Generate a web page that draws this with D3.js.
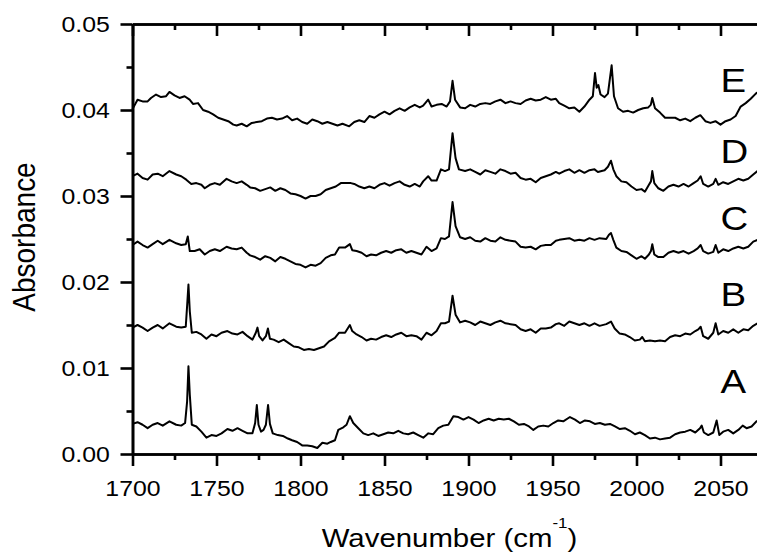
<!DOCTYPE html>
<html>
<head>
<meta charset="utf-8">
<title>Absorbance spectra</title>
<script src="https://d3js.org/d3.v7.min.js"></script>
<style>
  body { margin: 0; background: #fff; }
  svg text { font-family: "Liberation Sans", Arial, sans-serif; fill: #000; }
</style>
</head>
<body>
<svg id="chart" width="757" height="554"></svg>
<script>
// [wavenumber (cm-1), absorbance]
const specA = [[1700,.0035],[1703,.0037],[1706,.0034],[1709,.0030],[1712,.0034],[1715,.0036],[1718,.0033],[1722,.0038],[1726,.0034],[1729,.0033],[1731.3,.0036],[1732.5,.0061],[1733.3,.0102],[1734.1,.0069],[1735.3,.0034],[1738,.0032],[1741,.0026],[1744,.0019],[1747,.0022],[1750,.0021],[1753,.0024],[1756.5,.0029],[1759.5,.0027],[1762.5,.0030],[1765.5,.0027],[1768.5,.0024],[1771.4,.0024],[1773,.0036],[1774,.0057],[1775,.0034],[1776.5,.0026],[1778,.0028],[1779.4,.0034],[1780.7,.0057],[1781.8,.0035],[1783.5,.0024],[1786.5,.0022],[1789.5,.0021],[1792.5,.0018],[1795,.0016],[1798,.0014],[1801,.0010],[1804,.0010],[1807,.0009],[1810,.0007],[1813,.0013],[1816,.0012],[1818,.0014],[1820.5,.0016],[1822.5,.0028],[1825.5,.0031],[1827.4,.0034],[1829.4,.0044],[1831.4,.0036],[1834.4,.0030],[1837.4,.0024],[1840.3,.0022],[1843.3,.0024],[1846.3,.0021],[1849.3,.0023],[1852.2,.0025],[1855.2,.0024],[1858.2,.0027],[1861.2,.0024],[1864.1,.0023],[1867.1,.0025],[1870.1,.0022],[1873.1,.0019],[1876.1,.0024],[1879,.0023],[1882,.0030],[1885,.0033],[1888,.0034],[1891,.0044],[1894,.0043],[1897,.0040],[1900,.0043],[1903,.0040],[1906,.0036],[1909,.0039],[1912,.0041],[1915,.0039],[1918,.0041],[1921,.0040],[1924,.0041],[1927,.0038],[1930,.0034],[1933,.0035],[1936,.0032],[1938.6,.0028],[1941.5,.0032],[1944.5,.0033],[1947.5,.0032],[1950.5,.0036],[1953.4,.0039],[1956.4,.0038],[1960.4,.0043],[1963.4,.0040],[1966.3,.0036],[1969.3,.0039],[1972.3,.0038],[1975.2,.0035],[1978.2,.0036],[1981.2,.0034],[1984.2,.0035],[1987.2,.0032],[1990.1,.0029],[1993.1,.0030],[1996.1,.0027],[1999.1,.0023],[2002,.0025],[2005,.0022],[2008,.0018],[2011,.0019],[2014,.0017],[2017,.0018],[2020,.0019],[2023,.0023],[2026,.0025],[2029,.0026],[2032,.0028],[2035,.0025],[2037.8,.0030],[2038.8,.0033],[2040.1,.0025],[2042.7,.0022],[2045.7,.0025],[2047.7,.0039],[2049.3,.0022],[2051.6,.0026],[2054.6,.0028],[2057.6,.0024],[2060.6,.0028],[2063.2,.0033],[2065.5,.0030],[2068.5,.0032],[2071.5,.0038],[2074,.0041]];

const specB = [[1700,.0147],[1703,.0150],[1706,.0147],[1709,.0143],[1712,.0147],[1715,.0150],[1718,.0146],[1722,.0152],[1726,.0148],[1729,.0147],[1731.7,.0148],[1732.7,.0178],[1733.3,.0197],[1734.1,.0166],[1735.3,.0141],[1738,.0142],[1741,.0139],[1744,.0134],[1747,.0139],[1750,.0137],[1753,.0141],[1756.5,.0143],[1759.5,.0140],[1762.5,.0139],[1765.5,.0142],[1768.5,.0137],[1771.4,.0133],[1773.4,.0141],[1774.4,.0147],[1775.4,.0137],[1777.4,.0132],[1779.4,.0137],[1780.6,.0146],[1781.8,.0134],[1784,.0133],[1787,.0130],[1790,.0133],[1793,.0129],[1796,.0125],[1799,.0124],[1802,.0121],[1805,.0122],[1808,.0121],[1811,.0123],[1814,.0125],[1817,.0131],[1820.5,.0135],[1823,.0141],[1826.5,.0141],[1829.4,.0150],[1830.8,.0143],[1833.4,.0139],[1836.4,.0136],[1839.3,.0132],[1842,.0134],[1845,.0133],[1848,.0136],[1851,.0138],[1854,.0136],[1857,.0139],[1860,.0141],[1863,.0137],[1866,.0138],[1869,.0137],[1872,.0133],[1875,.0141],[1878,.0138],[1881,.0143],[1883.6,.0152],[1886,.0152],[1888.4,.0154],[1890.5,.0184],[1892.3,.0162],[1895,.0153],[1898,.0155],[1901,.0153],[1904,.0150],[1907,.0154],[1910,.0152],[1913,.0150],[1916,.0153],[1919,.0155],[1922,.0152],[1925,.0151],[1928,.0150],[1931,.0145],[1934,.0143],[1937,.0145],[1940,.0141],[1943,.0146],[1946,.0146],[1949,.0147],[1952,.0151],[1954,.0152],[1957,.0149],[1960,.0154],[1963,.0152],[1966,.0150],[1969,.0152],[1972,.0149],[1975,.0152],[1978,.0149],[1982,.0151],[1984.8,.0154],[1987,.0146],[1990,.0140],[1993,.0139],[1996,.0136],[1999,.0132],[2002,.0133],[2003.4,.0136],[2005,.0131],[2008,.0132],[2011,.0131],[2014,.0132],[2017,.0131],[2020,.0136],[2023,.0138],[2026,.0137],[2029,.0140],[2032,.0139],[2035,.0143],[2036.8,.0145],[2038.2,.0148],[2039.7,.0137],[2042.7,.0134],[2045.7,.0141],[2047.1,.0152],[2048.7,.0139],[2051.6,.0143],[2054.6,.0141],[2057.6,.0145],[2060.6,.0141],[2063.6,.0145],[2066.5,.0144],[2069.5,.0149],[2072,.0152],[2074,.0155]];

const specC = [[1700,.0243],[1703,.0247],[1706,.0243],[1709,.0240],[1712,.0244],[1715,.0248],[1718,.0244],[1722,.0249],[1726,.0245],[1729,.0243],[1731.7,.0244],[1732.9,.0253],[1734.1,.0236],[1737,.0236],[1740,.0238],[1743,.0232],[1746,.0236],[1749,.0238],[1752,.0236],[1756,.0241],[1759,.0239],[1762,.0238],[1765,.0240],[1768,.0234],[1770,.0231],[1773,.0229],[1776,.0226],[1779,.0230],[1782,.0228],[1785,.0224],[1788,.0229],[1791,.0227],[1794,.0224],[1797,.0221],[1800,.0220],[1803,.0217],[1806,.0220],[1809,.0219],[1812,.0222],[1815,.0228],[1818,.0231],[1820.5,.0232],[1823,.0240],[1826.5,.0240],[1829.4,.0244],[1830.8,.0237],[1833.4,.0236],[1836.4,.0234],[1839.3,.0230],[1842,.0232],[1845,.0231],[1848,.0234],[1851,.0236],[1854,.0234],[1857,.0237],[1860,.0238],[1863,.0234],[1866,.0236],[1869,.0234],[1872,.0232],[1875,.0241],[1878,.0236],[1881,.0239],[1883.6,.0251],[1886,.0250],[1888.4,.0253],[1890.5,.0293],[1892.3,.0265],[1895,.0252],[1898,.0250],[1901,.0252],[1904,.0248],[1907,.0247],[1910,.0251],[1913,.0248],[1916,.0247],[1919,.0252],[1922,.0249],[1925,.0248],[1928,.0247],[1931,.0241],[1934,.0240],[1937,.0241],[1940,.0238],[1943,.0242],[1946,.0243],[1949,.0243],[1952,.0248],[1954,.0249],[1957,.0250],[1960,.0251],[1963,.0248],[1966,.0249],[1969,.0248],[1972,.0251],[1975,.0249],[1978,.0251],[1982,.0250],[1983.6,.0255],[1984.8,.0257],[1986.2,.0249],[1988,.0240],[1991,.0236],[1994,.0235],[1997,.0231],[2000,.0227],[2003,.0230],[2005,.0227],[2007.4,.0232],[2008.6,.0236],[2009.4,.0244],[2010.6,.0232],[2013,.0229],[2016,.0229],[2019,.0234],[2022,.0236],[2025,.0234],[2028,.0236],[2031,.0233],[2034,.0236],[2036.4,.0239],[2038.2,.0243],[2039.7,.0236],[2042.7,.0233],[2045.7,.0235],[2047.1,.0243],[2048.7,.0234],[2051.6,.0238],[2054.6,.0236],[2057.6,.0239],[2060.6,.0241],[2063.6,.0239],[2066.5,.0241],[2069.5,.0247],[2072,.0249],[2074,.0251]];

const specD = [[1700,.0323],[1703,.0326],[1706,.0321],[1709,.0319],[1712,.0325],[1715,.0326],[1718,.0323],[1722,.0329],[1726,.0325],[1729,.0323],[1732,.0319],[1735,.0314],[1738,.0315],[1741,.0313],[1743,.0309],[1746,.0313],[1749,.0315],[1752,.0313],[1756,.0320],[1759,.0317],[1762,.0315],[1765,.0317],[1768,.0313],[1770,.0310],[1773,.0309],[1776,.0306],[1779,.0308],[1782,.0310],[1785,.0306],[1788,.0309],[1791,.0307],[1794,.0303],[1797,.0302],[1800,.0300],[1803,.0297],[1806,.0300],[1809,.0300],[1812,.0302],[1815,.0307],[1818,.0309],[1821,.0311],[1824,.0315],[1827,.0315],[1830,.0315],[1832,.0314],[1835,.0311],[1838,.0309],[1841,.0311],[1844,.0309],[1847,.0313],[1850,.0315],[1853,.0312],[1856,.0315],[1859,.0317],[1862,.0313],[1865,.0311],[1868,.0314],[1871,.0311],[1873,.0317],[1876,.0323],[1878,.0318],[1881,.0318],[1883.6,.0331],[1886,.0329],[1888.4,.0331],[1890.5,.0373],[1892.3,.0344],[1894.3,.0331],[1898,.0329],[1901,.0331],[1904,.0328],[1907,.0325],[1910,.0330],[1913,.0328],[1916,.0326],[1919,.0331],[1922,.0329],[1925,.0326],[1928,.0327],[1931,.0321],[1934,.0319],[1937,.0320],[1940,.0316],[1943,.0321],[1946,.0323],[1949,.0325],[1952,.0328],[1954,.0326],[1957,.0329],[1960,.0331],[1963,.0327],[1966,.0330],[1969,.0327],[1972,.0330],[1975,.0331],[1977,.0328],[1981,.0330],[1983,.0334],[1984.8,.0341],[1986.2,.0331],[1988,.0323],[1991,.0317],[1994,.0316],[1997,.0311],[2000,.0307],[2003,.0308],[2005,.0305],[2007.4,.0313],[2008.6,.0317],[2009.4,.0329],[2010.6,.0315],[2013,.0309],[2016,.0306],[2019,.0311],[2022,.0313],[2025,.0311],[2028,.0314],[2031,.0311],[2034,.0315],[2036.4,.0318],[2038.2,.0323],[2039.7,.0314],[2042.7,.0311],[2045.7,.0314],[2047.1,.0320],[2048.7,.0313],[2051.6,.0316],[2054.6,.0314],[2057.6,.0317],[2060.6,.0320],[2063.6,.0318],[2066.5,.0320],[2069.5,.0325],[2072,.0329],[2074,.0331]];

const specE = [[1700,.0401],[1703,.0412],[1706,.0410],[1709,.0410],[1711,.0414],[1714,.0418],[1717,.0415],[1720,.0416],[1722,.0421],[1725,.0417],[1728,.0414],[1731,.0416],[1734,.0412],[1736,.0407],[1739,.0408],[1742,.0400],[1745,.0398],[1748,.0395],[1751,.0391],[1754,.0389],[1757,.0387],[1760,.0383],[1762,.0382],[1765,.0384],[1768,.0381],[1771,.0385],[1774,.0386],[1777,.0387],[1780,.0390],[1783,.0391],[1786,.0389],[1789,.0390],[1792,.0393],[1795,.0388],[1798,.0390],[1801,.0386],[1804,.0384],[1807,.0389],[1810,.0387],[1813,.0384],[1816,.0386],[1819,.0384],[1822,.0382],[1825,.0384],[1829,.0381],[1832,.0386],[1835,.0388],[1838,.0386],[1841,.0393],[1844,.0391],[1847,.0395],[1850,.0398],[1853,.0395],[1856,.0399],[1859,.0402],[1862,.0399],[1865,.0403],[1868,.0406],[1871,.0403],[1873,.0405],[1876,.0412],[1878,.0404],[1881,.0406],[1884,.0407],[1887,.0404],[1889,.0410],[1890.5,.0434],[1892,.0412],[1895,.0403],[1898,.0402],[1901,.0406],[1904,.0404],[1907,.0407],[1910,.0408],[1913,.0407],[1916,.0410],[1919,.0412],[1922,.0408],[1925,.0410],[1928,.0408],[1931,.0407],[1934,.0411],[1937,.0413],[1940,.0411],[1943,.0412],[1946,.0415],[1949,.0412],[1952,.0413],[1954,.0408],[1957,.0405],[1960,.0402],[1963,.0403],[1966,.0398],[1969,.0404],[1972,.0412],[1974,.0416],[1975.3,.0443],[1976.3,.0426],[1977.3,.0429],[1978.6,.0418],[1981,.0415],[1983,.0419],[1985.2,.0452],[1986.6,.0416],[1989,.0402],[1992,.0398],[1995,.0399],[1998,.0397],[2001,.0400],[2004,.0402],[2007,.0403],[2008.5,.0406],[2009.4,.0414],[2011,.0402],[2014,.0397],[2017,.0391],[2020,.0391],[2023,.0391],[2026,.0388],[2029,.0390],[2032,.0387],[2035,.0391],[2038,.0394],[2041,.0387],[2044,.0385],[2047,.0387],[2050,.0383],[2053,.0387],[2056,.0389],[2059,.0393],[2062,.0404],[2065,.0408],[2068,.0413],[2071,.0419],[2074,.0423]];

const series = [specA, specB, specC, specD, specE];
const seriesNames = ["A", "B", "C", "D", "E"];
const nameX = [2050, 2050, 2050, 2050, 2050];
const nameY = [0.0071, 0.0172, 0.0260, 0.0338, 0.0421];

const xTicks = [1700, 1750, 1800, 1850, 1900, 1950, 2000, 2050];
const xMinor = [1725, 1775, 1825, 1875, 1925, 1975, 2025, 2075];
const yTicks = [0, 0.01, 0.02, 0.03, 0.04, 0.05];
const yMinor = [0.005, 0.015, 0.025, 0.035, 0.045];

const svg = d3.select("#chart");
const stretch = "scale(1.13,1)";

const x = d3.scaleLinear().domain([1700, 2075]).range([132.5, 762.5]);
const y = d3.scaleLinear().domain([0, 0.05]).range([454, 24]);

const line = d3.line().x(d => x(d[0])).y(d => y(d[1]));

svg.append("g")
  .selectAll("path")
  .data(series)
  .enter().append("path")
  .attr("d", line)
  .attr("fill", "none")
  .attr("stroke", "#000")
  .attr("stroke-width", 2)
  .attr("stroke-linejoin", "round");

// minor ticks
svg.append("g").attr("class", "axis")
  .attr("transform", "translate(0,454)")
  .call(d3.axisBottom(x).tickValues(xMinor).tickSize(6).tickSizeOuter(0).tickFormat(""));
svg.append("g").attr("class", "axis")
  .attr("transform", "translate(0,24)")
  .call(d3.axisTop(x).tickValues(xMinor).tickSize(-6).tickSizeOuter(0).tickFormat(""));
svg.append("g").attr("class", "axis")
  .attr("transform", "translate(132.5,0)")
  .call(d3.axisLeft(y).tickValues(yMinor).tickSize(6).tickSizeOuter(0).tickFormat(""));

// major ticks
svg.append("g").attr("class", "axis")
  .attr("transform", "translate(0,454)")
  .call(d3.axisBottom(x).tickValues(xTicks).tickSize(12).tickSizeOuter(0).tickPadding(14).tickFormat(d3.format("d")));
svg.append("g").attr("class", "axis")
  .attr("transform", "translate(0,24)")
  .call(d3.axisTop(x).tickValues(xTicks).tickSize(-12).tickSizeOuter(0).tickFormat(""));
svg.append("g").attr("class", "axis")
  .attr("transform", "translate(132.5,0)")
  .call(d3.axisLeft(y).tickValues(yTicks).tickSize(12).tickSizeOuter(0).tickPadding(8).tickFormat(d3.format(".2f")));

svg.selectAll(".axis path, .axis line")
  .attr("stroke", "#000")
  .attr("stroke-width", 2.6);

svg.selectAll(".axis text")
  .attr("font-size", 22)
  .attr("font-family", "Liberation Sans, Arial, sans-serif")
  .attr("transform", stretch);

// series names
svg.append("g")
  .selectAll("text")
  .data(seriesNames)
  .enter().append("text")
  .attr("transform", (d, i) => "translate(" + x(nameX[i]) + "," + y(nameY[i]) + ") " + stretch)
  .attr("font-size", 34)
  .text(d => d);

// axis titles
const xt = svg.append("text")
  .attr("transform", "translate(449.5,547) " + stretch)
  .attr("text-anchor", "middle")
  .attr("font-size", 26);
xt.append("tspan").text("Wavenumber (cm");
xt.append("tspan").attr("font-size", 15).attr("dy", -19).text("-1");
xt.append("tspan").attr("dy", 19).text(")");

svg.append("text")
  .attr("transform", "translate(35,237) " + stretch + " rotate(-90)")
  .attr("text-anchor", "middle")
  .attr("font-size", 28)
  .text("Absorbance");
</script>
</body>
</html>
